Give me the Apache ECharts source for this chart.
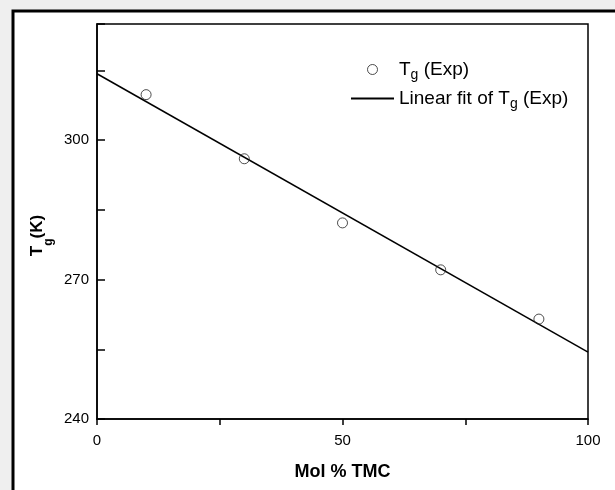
<!DOCTYPE html>
<html><head><meta charset="utf-8">
<script src="https://cdn.jsdelivr.net/npm/echarts@6/dist/echarts.min.js"></script>
<style>html,body{margin:0;padding:0;background:#efefef}#c{width:615px;height:490px}</style>
</head><body><div id="c"></div>
<script>
const molTMC = [10, 30, 50, 70, 90];
const tgExp = [309.8, 296.0, 282.2, 272.1, 261.5];
const fitX = [0, 100];
const fitY = [314.3, 254.4];
const xTickLabels = [0, 50, 100];
const yTickLabels = [240, 270, 300];
const seriesNames = ['Tg (Exp)', 'Linear fit of Tg (Exp)'];

const FF = '"Liberation Sans", Arial, sans-serif';
const chart = echarts.init(document.getElementById('c'));
const legendRich = {
  a: { fontSize: 19, fontFamily: FF, color: '#000' },
  s: { fontSize: 14, fontFamily: FF, color: '#000', padding: [12, 0, 0, 0] }
};
chart.setOption({
  backgroundColor: '#efefef',
  animation: false,
  graphic: [{
    type: 'rect', z: -10, silent: true,
    shape: { x: 13, y: 11, width: 700, height: 600 },
    style: { fill: '#fff', stroke: '#000', lineWidth: 3 }
  }],
  grid: { left: 97, right: 27, top: 24, bottom: 71, show: true, borderColor: '#000', borderWidth: 1.5, backgroundColor: 'transparent' },
  xAxis: {
    type: 'value', min: 0, max: 100, interval: 25,
    name: 'Mol % TMC', nameLocation: 'middle', nameGap: 44, nameMoveOverlap: false,
    nameTextStyle: { fontSize: 18, fontWeight: 'bold', fontFamily: FF, color: '#000' },
    axisLine: { show: true, onZero: false, lineStyle: { color: '#000', width: 1.5 } },
    axisTick: { show: true, inside: false, length: 6, lineStyle: { color: '#000', width: 1.5 } },
    axisLabel: { margin: 14, fontSize: 15, fontFamily: FF, color: '#000',
      formatter: v => xTickLabels.includes(v) ? String(v) : '' },
    splitLine: { show: false }
  },
  yAxis: {
    type: 'value', min: 240, max: 325, interval: 15,
    name: '{a|T}{s|g}{a|(K)}', nameLocation: 'middle', nameGap: 42, nameMoveOverlap: false,
    nameTextStyle: {
      padding: [0, 28, 0, 0],
      rich: {
        a: { fontSize: 17, fontWeight: 'bold', fontFamily: FF, color: '#000' },
        s: { fontSize: 12, fontWeight: 'bold', fontFamily: FF, color: '#000', padding: [24, 0, 0, 0] }
      }
    },
    axisLine: { show: true, onZero: false, lineStyle: { color: '#000', width: 1.5 } },
    axisTick: { show: true, inside: true, length: 8, lineStyle: { color: '#000', width: 1.5 } },
    axisLabel: { margin: 8, fontSize: 15, fontFamily: FF, color: '#000',
      formatter: v => yTickLabels.includes(v) ? String(v) : '' },
    splitLine: { show: false }
  },
  legend: [
    { data: [seriesNames[0]], left: 367, top: 60, padding: 0, itemWidth: 43, itemHeight: 10, itemGap: 0,
      itemStyle: { color: 'rgba(255,255,255,0)', borderColor: '#222', borderWidth: 1 },
      formatter: () => '{a|T}{s|g}{a| (Exp)}', textStyle: { rich: legendRich } },
    { data: [seriesNames[1]], left: 350, top: 89, padding: 0, itemWidth: 43, itemHeight: 10, itemGap: 0,
      itemStyle: { color: 'rgba(0,0,0,0)', borderColor: 'rgba(0,0,0,0)', borderWidth: 0 },
      formatter: () => '{a|Linear fit of T}{s|g}{a| (Exp)}', textStyle: { rich: legendRich } }
  ],
  series: [
    {
      name: seriesNames[1], type: 'line', z: 2,
      data: fitX.map((x, i) => [x, fitY[i]]),
      symbol: 'none', showSymbol: false,
      lineStyle: { color: '#000', width: 1.5 },
      itemStyle: { color: '#000' }
    },
    {
      name: seriesNames[0], type: 'scatter', z: 3,
      data: molTMC.map((x, i) => [x, tgExp[i]]),
      symbol: 'circle', symbolSize: 10,
      itemStyle: { color: 'rgba(255,255,255,0)', borderColor: '#222', borderWidth: 1 }
    }
  ]
});
</script></body></html>
